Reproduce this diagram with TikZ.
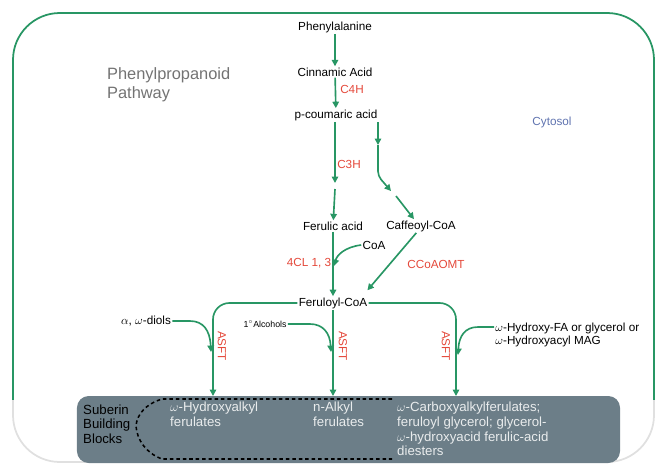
\documentclass[tikz,border=0pt]{standalone}
\usepackage{fontspec}
\setmainfont{Liberation Sans}
\usetikzlibrary{arrows.meta}
\definecolor{pathgreen}{RGB}{40,150,100}
\definecolor{enzred}{RGB}{228,72,58}
\definecolor{boxgray}{RGB}{108,126,136}
\definecolor{cytblue}{RGB}{95,115,175}
\tikzstyle{compound}=[font=\fontsize{10}{11.5}\selectfont,inner sep=1pt]
\tikzstyle{enzyme}=[font=\fontsize{10}{11}\selectfont,text=enzred,inner sep=1pt]
\tikzstyle{flow}=[draw=pathgreen,line width=1.4pt,-{Triangle[length=5.5pt,width=5.5pt]}]
\tikzstyle{block}=[font=\fontsize{11.3}{12.5}\selectfont,text=white!85!boxgray,align=left,inner sep=0pt,anchor=north west]

\begin{document}
\begin{tikzpicture}[x=0.03cm,y=-0.03cm]
				\useasboundingbox (0,0) rectangle (666,468);

				% the cell compartment
				\draw[pathgreen,line width=1.5pt,rounded corners=40] (13,400) -- (13,13) -- (654,13) -- (654,400);
				\draw[black!12,line width=1.5pt,rounded corners=40] (13,400) -- (13,462) -- (654,462) -- (654,400);
				\node[font=\fontsize{14}{16}\selectfont,text=black!55,align=left,anchor=west] (title) at (103,85) {Phenylpropanoid\\Pathway};
				\node[compound,text=cytblue] (cyto) at (552,122) {Cytosol};

				% suberin building blocks
				\node[fill=boxgray,rounded corners=10,minimum width=16.29cm,minimum height=2.01cm,inner sep=0pt] (bb) at (348.5,429.5) {};
				\draw[black,line width=1.3pt,dash pattern=on 3pt off 2.5pt] (392,399) -- (162,399)
					.. controls (146,404) and (137,414) .. (136,426)
					.. controls (137,440) and (146,453) .. (162,459) -- (392,459);
				\node[block,text=black,anchor=west] (sbb) at (83,424) {Suberin\\Building\\Blocks};
				\node[block] (hyd) at (170,402) {$\omega$-Hydroxyalkyl\\ferulates};
				\node[block] (alk) at (313,402) {n-Alkyl\\ferulates};
				\node[block] (carb) at (397,402) {$\omega$-Carboxyalkylferulates;\\feruloyl glycerol; glycerol-\\$\omega$-hydroxyacid ferulic-acid\\diesters};

				% compounds of the pathway
				\foreach \pos/\name/\text in {{(335,27)/phe/Phenylalanine}, {(335,72)/cin/Cinnamic Acid},
										{(336,115)/cou/p-coumaric acid}, {(333,226)/fer/Ferulic acid},
										{(421,226)/caf/Caffeoyl-CoA}, {(374,245)/coa/CoA},
										{(333,303)/ferc/Feruloyl-CoA}, {(146,321)/diol/{$\alpha$, $\omega$-diols}}}
				\node[compound] (\name) at \pos {\text};
				\node[compound,font=\fontsize{7.5}{8}\selectfont] (alc) at (265,324) {1$^\circ$Alcohols};
				\node[compound,align=left,anchor=west] (hfa) at (494,335) {$\omega$-Hydroxy-FA or glycerol or\\$\omega$-Hydroxyacyl MAG};

				% enzymes
				\foreach \pos/\name/\text in {{(352,89)/ecfh/C4H}, {(349,164)/ecth/C3H},
										{(309,263)/ecl/{4CL 1, 3}}, {(436,264)/eccoa/CCoAOMT}}
				\node[enzyme] (\name) at \pos {\text};
				\foreach \pos/\name in {{(222,346)/asfta}, {(343,346)/asftb}, {(446,346)/asftc}}
				\node[enzyme,rotate=-90] (\name) at \pos {ASFT};

				% free ends of the arrows
				\coordinate (m1) at (335,183);
				\coordinate (m2) at (335,189);
				\coordinate (r0) at (378,122);
				\coordinate (r1) at (378,145);
				\coordinate (r2) at (391,191);
				\coordinate (r3) at (396,196);
				\coordinate (in1) at (213,396);
				\coordinate (in2) at (333,396);
				\coordinate (in3) at (456,396);
				\coordinate (j1) at (211,352);
				\coordinate (j2) at (331,352);
				\coordinate (j3) at (458,355);

				% main route
				\path[flow] (phe) -- (cin);
				\path[flow] (cin) -- (cou);
				\path[flow] (cou.south -| m1) -- (m1);
				\path[flow] (m2) -- (fer);
				\path[flow] (r0) -- (r1);
				\path[flow,rounded corners=4] (r1) -- (378,176) -- (r2);
				\path[flow] (r3) -- (caf.north -| 414,0);
				\path[flow] (fer) -- (ferc);
				\path[flow] (coa.west) .. controls (345,247) and (337,255) .. (334,266);
				\path[flow] ([xshift=-4pt]caf.south) -- ([xshift=-1pt,yshift=5pt]ferc.north east);

				% to the building blocks
				\path[flow,rounded corners=14] (ferc.west) -| (in1);
				\path[flow] (ferc) -- (in2);
				\path[flow,rounded corners=14] (ferc.east) -| (in3);
				\path[flow] (diol.east) -- (190,321) .. controls (203,321) and (210,330) .. (j1);
				\path[flow] (alc.east) -- (310,324) .. controls (323,324) and (330,333) .. (j2);
				\path[flow] (hfa.west |- 0,327) -- (478,327) .. controls (465,327) and (459,336) .. (j3);

			\end{tikzpicture}
\end{document}
